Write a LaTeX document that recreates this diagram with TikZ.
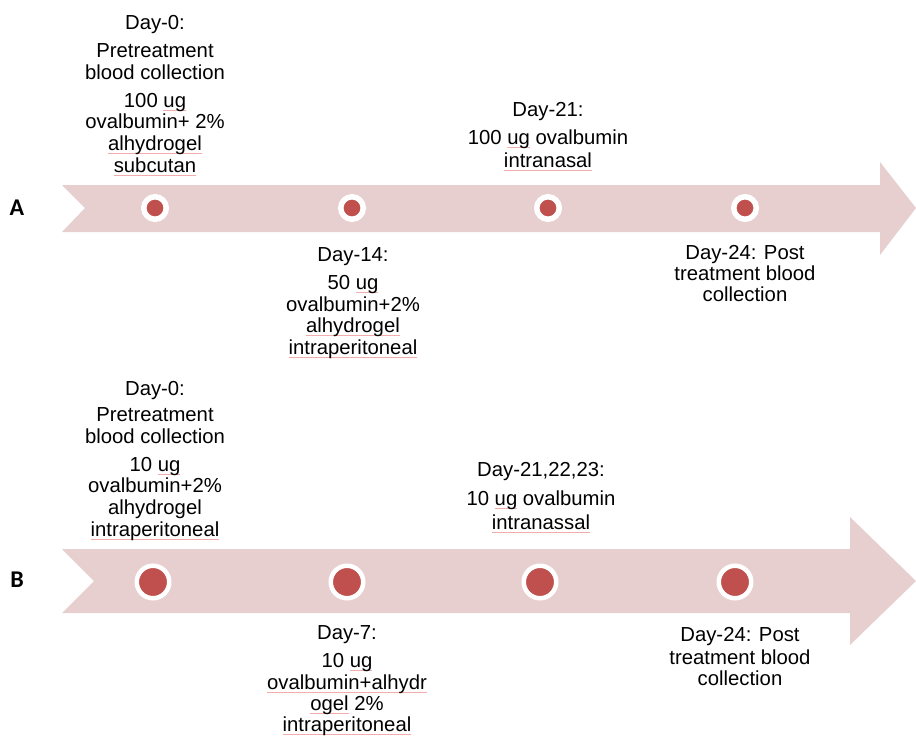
\documentclass[tikz,border=0pt]{standalone}
\usepackage{fontspec}
\setmainfont{Liberation Sans}
\newfontfamily\labelfont{Carlito}
\usepackage{xcolor}
\definecolor{bandpink}{RGB}{231,207,207}
\definecolor{dotred}{RGB}{192,80,77}
\definecolor{squig}{RGB}{243,172,172}
% spell-check mark under a word
\newcommand{\sq}[1]{\setbox0=\hbox{#1}\rlap{\textcolor{squig}{\rule[-3.2pt]{\wd0}{0.75pt}}}\box0\relax}

\begin{document}
\begin{tikzpicture}[x=1pt, y=-1pt,
    note/.style={anchor=north, inner sep=0pt, align=center, font=\fontsize{20.3}{21.7}\selectfont},
    dotA/.style={circle, fill=dotred, draw=white, line width=5.5pt, minimum size=22.5pt, inner sep=0pt},
    dotB/.style={circle, fill=dotred, draw=white, line width=4.5pt, minimum size=32.5pt, inner sep=0pt},
    rowlabel/.style={font=\labelfont\bfseries\fontsize{24}{28}\selectfont}]
    \useasboundingbox (0,0) rectangle (916,736);

    % Timeline A
    \fill[bandpink] (62,185) -- (880,185) -- (880,162) -- (916,208) -- (880,255)
        -- (880,232) -- (62,232) -- (85,208) -- cycle;
    \node[rowlabel] (labA) at (17,208) {A};
    \node[dotA] (a1) at (155,208) {};
    \node[dotA] (a2) at (352,208) {};
    \node[dotA] (a3) at (548,208) {};
    \node[dotA] (a4) at (745,208) {};

    % Notes A
    \node[note] (a1text) at (155,15) {Day-0:\\[6.3pt] Pretreatment\\ blood collection\\[6.3pt]
        100 \sq{ug}\\ ovalbumin+ 2\%\\ \sq{alhydrogel}\\ \sq{subcutan}};
    \node[note] (a2text) at (353,247) {Day-14:\\[6.5pt] 50 \sq{ug}\\ ovalbumin+2\%\\
        \sq{alhydrogel}\\ \sq{intraperitoneal}};
    \node[note] (a3text) at (548,102.5) {Day-21:\\[5.5pt] 100 \sq{ug} ovalbumin\\[1.5pt] \sq{intranasal}};
    \node[note] (a4text) at (745,245) {Day-24: Post\\[-0.5pt] treatment blood\\[-0.5pt] collection};

    % Timeline B
    \fill[bandpink] (62,549) -- (850,549) -- (850,517) -- (916,581) -- (850,645)
        -- (850,613) -- (62,613) -- (94,581) -- cycle;
    \node[rowlabel] (labB) at (17,580) {B};
    \node[dotB] (b1) at (153,582) {};
    \node[dotB] (b2) at (347,582) {};
    \node[dotB] (b3) at (540,582) {};
    \node[dotB] (b4) at (735,582) {};

    % Notes B
    \node[note] (b1text) at (155,381) {Day-0:\\[4.5pt] Pretreatment\\ blood collection\\[6.3pt]
        10 \sq{ug}\\ ovalbumin+2\%\\ alhydrogel\\ \sq{intraperitoneal}};
    \node[note] (b2text) at (347,625.5) {Day-7:\\[6.5pt] 10 \sq{ug}\\ \sq{ovalbumin+alhydr}\\[-0.5pt]
        \sq{ogel} 2\%\\[-0.5pt] \sq{intraperitoneal}};
    \node[note] (b3text) at (541,462.5) {Day-21,22,23:\\[6.5pt] 10 \sq{ug} ovalbumin\\[2.5pt] \sq{intranassal}};
    \node[note] (b4text) at (740,627.5) {Day-24: Post\\[0.5pt] treatment blood\\[-0.5pt] collection};
\end{tikzpicture}
\end{document}
